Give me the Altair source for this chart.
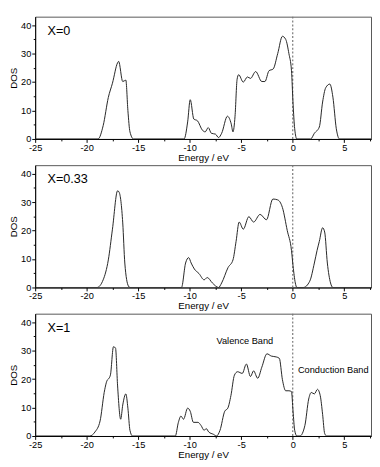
import altair as alt
import pandas as pd

# Panel X=0
e1 = [-25, -18.9, -18.4, -17.9, -17.5, -17.0, -16.9, -16.5, -16.2, -16.0, -15.8, -15.45,
      -10.55, -10.2, -9.95, -9.6, -9.25, -8.77, -8.5, -8.2, -7.9, -7.5, -7.2, -6.9, -6.34, -5.97,
      -5.8, -5.6, -5.4, -5.25, -4.8, -4.4, -4.1, -3.6, -3.0, -2.7, -2.3, -1.9, -1.46, -1.0, -0.68,
      -0.37, -0.12, 0.03, 0.19, 0.4,
      1.74, 2.1, 2.58, 2.9, 3.2, 3.6, 3.9, 4.23, 4.54, 7.6]
d1 = [0, 0, 4.7, 14.6, 19.6, 26.8, 27.3, 20.2, 20.7, 10, 2.5, 0,
      0, 6, 13.8, 7, 6.4, 3.1, 2.5, 4, 2, 1.7, 0.5, 2, 8, 5.3,
      2.5, 8, 21, 22.6, 20, 21.8, 21.3, 23.7, 20.2, 20.2, 24, 24.6, 30, 36.1, 35,
      30, 24, 12.5, 3.6, 0,
      0, 2, 4.2, 13, 18, 19.3, 14.7, 3.6, 0, 0]

# Panel X=0.33
e2 = [-25, -19.0, -18.4, -17.9, -17.5, -17.0, -16.85, -16.5, -16.3, -15.95, -15.8,
      -10.8, -10.4, -10.1, -9.86, -9.55, -9.1, -8.6, -8.3, -7.8, -7.2, -6.9, -6.28, -5.8, -5.5,
      -5.2, -4.8, -4.26, -3.8, -3.17, -2.55, -1.93, -1.46, -1.0, -0.53, -0.12, 0.03, 0.25, 0.4,
      1.03, 1.65, 2.1, 2.36, 2.58, 2.9, 3.1, 3.36, 3.67, 3.9, 7.6]
d2 = [0, 0, 2.7, 9.7, 20.5, 34, 33.5, 22.7, 8.6, 0.5, 0,
      0, 8.6, 10.5, 8.6, 6.5, 4.9, 2.7, 3.5, 1.6, 0, 1.6, 7, 9.7, 16.2,
      23, 20.5, 24.9, 23, 25.7, 23.8, 31.1, 30.8, 28.1, 20, 13, 7.6, 1.6, 0,
      0, 2.2, 8.6, 13, 16.2, 21, 19.5, 8.6, 1.6, 0, 0]

# Panel X=1
e3 = [-25, -19.7, -19.2, -18.7, -18.3, -18.1, -17.7, -17.4, -17.2, -17.0, -16.7, -16.5, -16.2,
      -16.0, -15.8, -15.55,
      -11.4, -11.1, -10.85, -10.6, -10.2, -9.95, -9.64, -9.2, -8.9, -8.6, -8.4, -8.15, -7.7, -7.4,
      -7.06, -6.6, -6.3, -6.0, -5.66, -5.35, -4.9, -4.5, -4.1, -3.8, -3.4, -3.0, -2.5, -2.08,
      -1.6, -1.3, -1.0, -0.68, -0.37, -0.12, 0.03, 0.19, 0.4,
      0.7, 1.18, 1.55, 1.8, 2.1, 2.4, 2.67, 2.9, 3.1, 3.3, 7.6]
d3 = [0, 0, 1.4, 5.3, 15.3, 18.7, 21.4, 31.4, 30.9, 17.6, 5.9, 10.9, 14.8,
      9.8, 2, 0,
      0, 4.8, 7, 5.9, 9.8, 8.7, 4.8, 4.8, 3.7, 2, 2.6, 1.4, 0.6, 0,
      2, 8.7, 9.8, 14.2, 21.4, 22.6, 22, 25.3, 20.9, 22.9, 20.3, 24.2, 28.9, 28.1,
      27.8, 27.3, 19.8, 15.9, 15.9, 15.6, 8.7, 2, 0,
      0, 3.7, 13, 15.3, 14.8, 16.4, 14.2, 7.6, 0.9, 0, 0]

panel_labels = ["X=0", "X=0.33", "X=1"]
band_texts = ["Valence Band", "Conduction Band"]
band_x = [-7.4, 0.5]
band_y = [33.3, 23.3]

x_ticks = [-25, -22.5, -20, -17.5, -15, -12.5, -10, -7.5, -5, -2.5, 0, 2.5, 5, 7.5]
y_ticks = [0, 5, 10, 15, 20, 25, 30, 35, 40]

FONT = "Liberation Sans"
XDOM = [-25, 7.6]
YDOM = [0, 43]


def panel(e, d, label, extra=False):
    df = pd.DataFrame({"E": e, "DOS": d})
    xs = alt.Scale(domain=XDOM, nice=False, zero=False)
    ys = alt.Scale(domain=YDOM, nice=False)
    xaxis = alt.Axis(values=x_ticks, tickCount=50,
                     labelExpr="datum.value % 5 == 0 ? '' + datum.value : ''",
                     title="Energy / eV", grid=False,
                     tickSize={"condition": {"test": "datum.value % 5 == 0", "value": 3.5}, "value": 2},
                     labelPadding=0, titlePadding=1, labelOverlap=False,
                     labelFontSize=9.5, titleFontSize=10, titleFontWeight="normal",
                     labelFont=FONT, titleFont=FONT, domainColor="black", tickColor="black",
                     labelColor="black", titleColor="black", labelFlush=False)
    yaxis = alt.Axis(values=y_ticks, tickCount=50,
                     labelExpr="datum.value % 10 == 0 ? '' + datum.value : ''",
                     title="DOS", grid=False,
                     tickSize={"condition": {"test": "datum.value % 10 == 0", "value": 3.5}, "value": 2},
                     labelPadding=1, titlePadding=2,
                     labelFontSize=9.5, titleFontSize=10, titleFontWeight="normal",
                     labelFont=FONT, titleFont=FONT, domainColor="black", tickColor="black",
                     labelColor="black", titleColor="black", labelOverlap=False, labelFlush=False)
    line = alt.Chart(df).mark_line(interpolate="monotone", color="#222", strokeWidth=1, clip=True).encode(
        x=alt.X("E:Q", scale=xs, axis=xaxis),
        y=alt.Y("DOS:Q", scale=ys, axis=yaxis),
    )
    vline = alt.Chart(pd.DataFrame({"E": [0]})).mark_rule(
        strokeDash=[2, 2], color="#777", strokeWidth=1.2).encode(x=alt.X("E:Q", scale=xs))
    lab = alt.Chart(pd.DataFrame({"E": [-23.8], "DOS": [38], "t": [label]})).mark_text(
        align="left", baseline="middle", fontSize=13, font=FONT, color="black").encode(
        x=alt.X("E:Q", scale=xs), y=alt.Y("DOS:Q", scale=ys), text="t:N")
    layers = [vline, line, lab]
    if extra:
        bt = alt.Chart(pd.DataFrame({"E": band_x, "DOS": band_y, "t": band_texts})).mark_text(
            align="left", baseline="middle", fontSize=9.5, font=FONT, color="black").encode(
            x=alt.X("E:Q", scale=xs), y=alt.Y("DOS:Q", scale=ys), text="t:N")
        layers.append(bt)
    return alt.layer(*layers).properties(width=346, height=126)


chart = alt.vconcat(
    panel(e1, d1, panel_labels[0]),
    panel(e2, d2, panel_labels[1]),
    panel(e3, d3, panel_labels[2], extra=True),
    spacing=0,
).properties(padding=0).configure_view(stroke="#555", strokeWidth=1)

chart.save("out.html", embed_options={"renderer": "svg", "actions": False})
